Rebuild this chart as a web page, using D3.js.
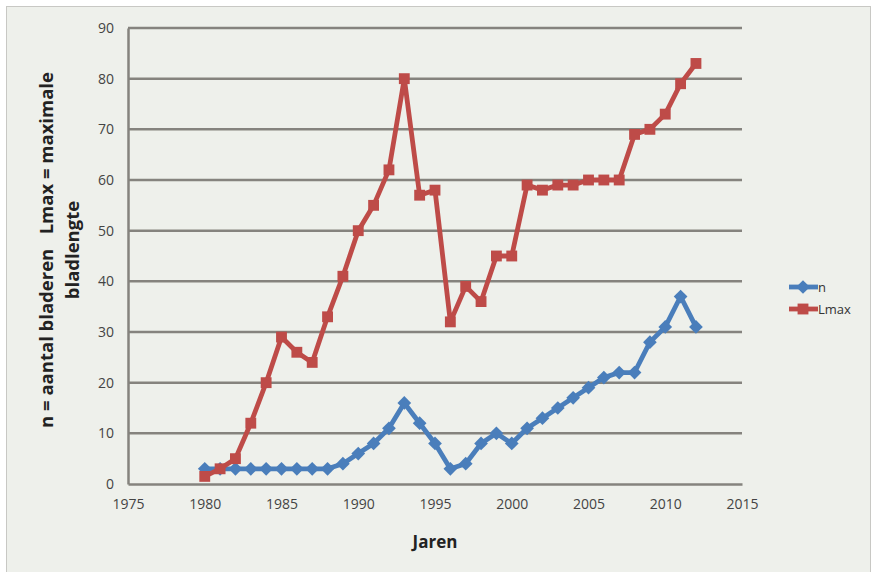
<!DOCTYPE html>
<html>
<head>
<meta charset="utf-8">
<script src="https://cdn.jsdelivr.net/npm/d3@7/dist/d3.min.js"></script>
<style>
  html, body { margin: 0; padding: 0; background: #ffffff; }
  svg { display: block; }
  text { font-family: "Open Sans", "DejaVu Sans", sans-serif; white-space: pre; }
</style>
</head>
<body>
<svg id="chart" width="877" height="572"></svg>
<script>
// Years of observation
const years = [1980,1981,1982,1983,1984,1985,1986,1987,1988,1989,1990,1991,1992,1993,1994,1995,1996,
               1997,1998,1999,2000,2001,2002,2003,2004,2005,2006,2007,2008,2009,2010,2011,2012];
// n = aantal bladeren
const nValues = [3,3,3,3,3,3,3,3,3,4,6,8,11,16,12,8,3,
                 4,8,10,8,11,13,15,17,19,21,22,22,28,31,37,31];
// Lmax = maximale bladlengte
const lmaxValues = [1.5,3,5,12,20,29,26,24,33,41,50,55,62,80,57,58,32,
                    39,36,45,45,59,58,59,59,60,60,60,69,70,73,79,83];
const xTicks = [1975,1980,1985,1990,1995,2000,2005,2010,2015];
const yTicks = [0,10,20,30,40,50,60,70,80,90];

const seriesNames = ["n", "Lmax"];
const seriesColors = ["#4a7ebb", "#be4b48"];

const svg = d3.select("#chart");

// chart frame
svg.append("rect")
  .attr("x", 6.5).attr("y", 6.5).attr("width", 864).attr("height", 566)
  .attr("fill", "#eef0eb").attr("stroke", "#c8c8c4").attr("stroke-width", 1);

const x = d3.scaleLinear().domain([1975, 2015]).range([128, 742]);
const y = d3.scaleLinear().domain([0, 90]).range([484, 28]);

// horizontal gridlines
svg.append("g").selectAll("line")
  .data(yTicks.filter(t => t > 0))
  .join("line")
  .attr("x1", x(1975)).attr("x2", x(2015))
  .attr("y1", d => y(d)).attr("y2", d => y(d))
  .attr("stroke", "#85837e").attr("stroke-width", 2.5);

// y axis
const yAxis = svg.append("g")
  .attr("transform", `translate(${x(1975)},0)`)
  .call(d3.axisLeft(y).tickValues(yTicks).tickSize(0).tickPadding(14));
yAxis.select(".domain").attr("stroke", "#85837e").attr("stroke-width", 2.5);
yAxis.selectAll("text").attr("fill", "#444").style("font-size", "14px");

// x axis
const xAxis = svg.append("g")
  .attr("transform", `translate(0,${y(0)})`)
  .call(d3.axisBottom(x).tickValues(xTicks).tickFormat(d3.format("d")).tickSize(0).tickPadding(15));
xAxis.select(".domain").attr("stroke", "#85837e").attr("stroke-width", 2.5);
xAxis.selectAll("text").attr("fill", "#444").style("font-size", "14px");

// series
const series = [
  { name: seriesNames[0], color: seriesColors[0], values: nValues, marker: "diamond" },
  { name: seriesNames[1], color: seriesColors[1], values: lmaxValues, marker: "square" }
];

const line = d3.line().x(d => x(d[0])).y(d => y(d[1]));
const diamond = d3.symbol().type(d3.symbolDiamond2).size(120);
const square = d3.symbol().type(d3.symbolSquare2).size(150);

series.forEach(s => {
  const pts = years.map((yr, i) => [yr, s.values[i]]);
  const g = svg.append("g");
  g.append("path")
    .datum(pts)
    .attr("d", line)
    .attr("fill", "none")
    .attr("stroke", s.color)
    .attr("stroke-width", 4.8)
    .attr("stroke-linejoin", "round");
  g.selectAll("path.m")
    .data(pts)
    .join("path")
    .attr("class", "m")
    .attr("transform", d => `translate(${x(d[0])},${y(d[1])})`)
    .attr("d", s.marker === "diamond" ? diamond() : square())
    .attr("fill", s.color);
});

// legend
const legend = svg.append("g");
series.forEach((s, i) => {
  const ly = 287 + i * 22;
  legend.append("line")
    .attr("x1", 789).attr("x2", 818).attr("y1", ly).attr("y2", ly)
    .attr("stroke", s.color).attr("stroke-width", 4.8);
  legend.append("path")
    .attr("transform", `translate(803,${ly})`)
    .attr("d", s.marker === "diamond" ? diamond() : square())
    .attr("fill", s.color);
  legend.append("text")
    .attr("x", 818).attr("y", ly).attr("dy", "0.35em")
    .attr("fill", "#333").style("font-size", "13px")
    .text(s.name);
});

// axis titles
svg.append("text")
  .attr("x", 435).attr("y", 548)
  .attr("text-anchor", "middle")
  .attr("fill", "#222").style("font-size", "17px").style("font-weight", "bold")
  .text("Jaren");

const yTitle = svg.append("text")
  .attr("transform", "rotate(-90)")
  .attr("text-anchor", "middle")
  .attr("fill", "#222").style("font-size", "18.5px").style("font-weight", "bold");
yTitle.append("tspan").attr("x", -250).attr("y", 53).text("n = aantal bladeren   Lmax = maximale");
yTitle.append("tspan").attr("x", -250).attr("y", 79).text("bladlengte");
</script>
</body>
</html>
